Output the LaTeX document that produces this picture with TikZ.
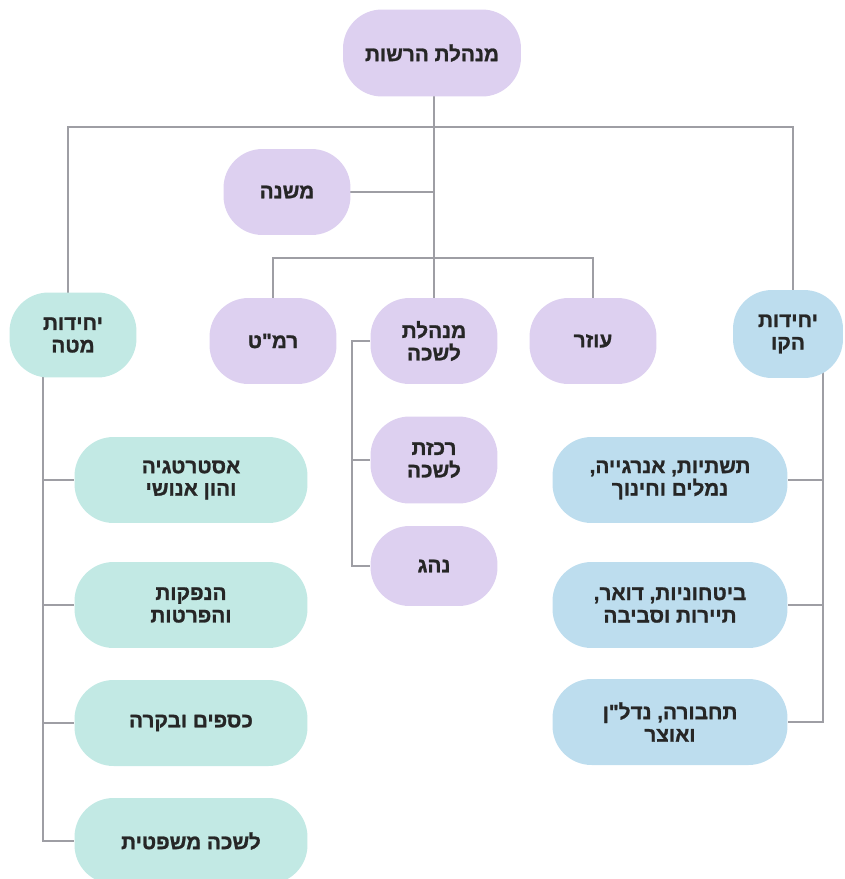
\documentclass[tikz,border=0pt]{standalone}
\usepackage{fontspec}
\usetikzlibrary{backgrounds}
\newfontfamily\hebfont[Script=Hebrew,BoldFont={Liberation Sans Bold},BoldFeatures={FakeBold=1.2}]{Liberation Sans}
\TeXXeTstate=1
\newcommand{\heb}[1]{\beginR #1\endR}
\definecolor{lilac}{RGB}{221,208,240}
\definecolor{mint}{RGB}{194,233,228}
\definecolor{sky}{RGB}{189,221,238}
\definecolor{wire}{RGB}{158,158,164}

\begin{document}
\begin{tikzpicture}
[
    x=0.02cm, y=-0.02cm,
    unit/.style={rounded corners=0.78cm, minimum height=1.72cm, minimum width=2.54cm,
        inner sep=0pt, align=center, text=black!85,
        font=\hebfont\bfseries\fontsize{11.8}{12.8}\selectfont},
    lilacunit/.style={unit, fill=lilac},
    mintunit/.style={unit, fill=mint},
    skyunit/.style={unit, fill=sky},
    wide/.style={minimum width=4.66cm},
    conn/.style={draw=wire, line width=1.1pt},
]
\useasboundingbox (0,0) rectangle (845,879);

\node [lilacunit, minimum width=3.56cm, minimum height=1.74cm] (rashut) at (432,53) {\heb{מנהלת הרשות}};
\node [lilacunit] (mishne) at (287,192) {\heb{משנה}};

\node [mintunit, minimum height=1.7cm] (mateh) at (73,335) {\heb{יחידות}\\\heb{מטה}};
\node [lilacunit] (ramat) at (273,341) {\heb{רמ"ט}};
\node [lilacunit] (mlishka) at (434,341) {\heb{מנהלת}\\\heb{לשכה}};
\node [lilacunit] (ozer) at (593,341) {\heb{עוזר}};
\node [skyunit, minimum width=2.2cm, minimum height=1.76cm] (kav) at (788,334) {\heb{יחידות}\\\heb{הקו}};

\node [lilacunit, minimum height=1.74cm] (rakezet) at (434,460) {\heb{רכזת}\\\heb{לשכה}};
\node [lilacunit, minimum height=1.6cm] (nahag) at (434,566) {\heb{נהג}};

\node [mintunit, wide] (strat) at (191,480) {\heb{אסטרטגיה}\\\heb{והון אנושי}};
\node [mintunit, wide] (hanpakot) at (191,605) {\heb{הנפקות}\\\heb{והפרטות}};
\node [mintunit, wide] (ksafim) at (191,723) {\heb{כספים ובקרה}};
\node [mintunit, wide] (mishpatit) at (191,841) {\heb{לשכה משפטית}};

\node [skyunit, wide, minimum width=4.7cm] (tashtiyot) at (670,480) {\heb{תשתיות, אנרגייה,}\\\heb{נמלים וחינוך}};
\node [skyunit, wide, minimum width=4.7cm] (bitchon) at (670,605) {\heb{ביטחוניות, דואר,}\\\heb{תיירות וסביבה}};
\node [skyunit, wide, minimum width=4.7cm] (tahbura) at (670,722) {\heb{תחבורה, נדל"ן}\\\heb{ואוצר}};

\coordinate (bar1l) at (68,127);
\coordinate (bar1r) at (793,127);
\coordinate (bar2) at (434,258);
\coordinate (lspine) at (43,0);
\coordinate (rspine) at (823,0);

\begin{scope}[on background layer]
\draw [conn] (mlishka.center) -- (mlishka.center |- rashut.center);
\draw [conn] (mateh.center -| bar1l) -- (bar1l) -- (bar1r) -- (kav.center -| bar1r);
\draw [conn] (mishne.center) -- (mishne.center -| mlishka.center);
\draw [conn] (ramat.center) -- (ramat.center |- bar2) -- (ozer.center |- bar2) -- (ozer.center);
\draw [conn] (mlishka.west) -- ++(-18,0) coordinate (mspine) |- (nahag.west);
\draw [conn] (mspine |- rakezet.west) -- (rakezet.west);
\draw [conn] (lspine |- mateh.center) |- (mishpatit.west);
\foreach \n in {strat,hanpakot,ksafim}
    \draw [conn] (lspine |- \n.west) -- (\n.west);
\draw [conn] (rspine |- kav.center) |- (tahbura.east);
\foreach \n in {tashtiyot,bitchon}
    \draw [conn] (rspine |- \n.east) -- (\n.east);
\end{scope}
\end{tikzpicture}
\end{document}
